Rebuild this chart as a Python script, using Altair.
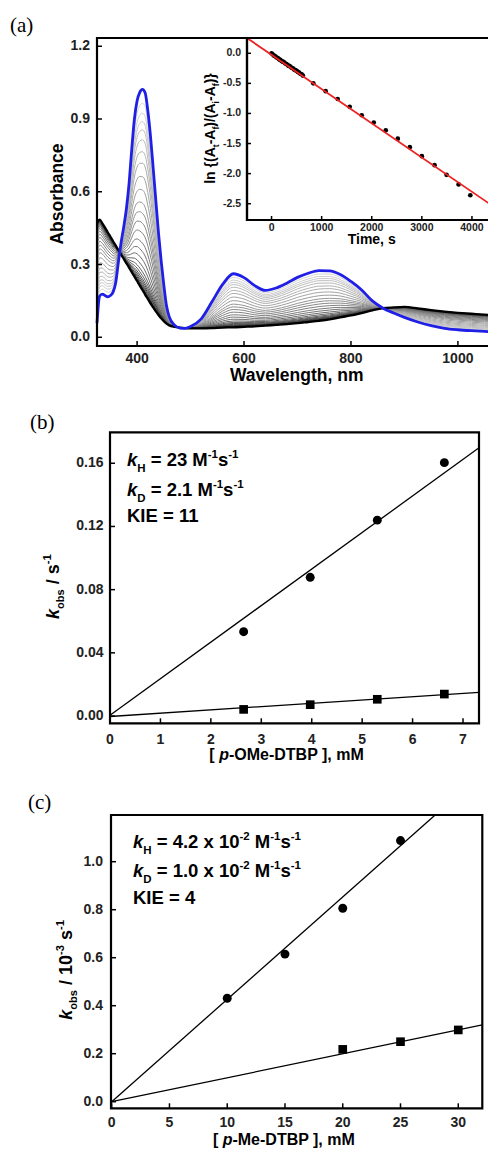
import altair as alt
import pandas as pd

# ---------------- data: panel (a) spectra ----------------
wavelength = [325, 330, 335, 340, 345, 350, 355, 360, 365, 370, 375, 380, 385, 390, 395, 400,
              405, 410, 415, 420, 425, 430, 435, 440, 445, 450, 455, 460, 470, 480, 490, 500,
              520, 540, 560, 580, 600, 620, 640, 660, 680, 700, 720, 740, 760, 780, 800, 820,
              840, 860, 880, 900, 925, 950, 975, 1000, 1025, 1050, 1075]
abs_initial = [0.058, 0.170, 0.178, 0.172, 0.167, 0.172, 0.186, 0.225, 0.310, 0.390, 0.455, 0.530,
               0.635, 0.775, 0.900, 0.975, 1.010, 1.022, 1.008, 0.935, 0.830, 0.700, 0.565, 0.430,
               0.315, 0.215, 0.130, 0.085, 0.050, 0.038, 0.037, 0.044, 0.076, 0.146, 0.218, 0.262,
               0.246, 0.213, 0.193, 0.203, 0.223, 0.247, 0.264, 0.275, 0.274, 0.259, 0.230, 0.195,
               0.150, 0.120, 0.100, 0.082, 0.063, 0.048, 0.037, 0.031, 0.027, 0.024, 0.022]
abs_final = [0.470, 0.485, 0.470, 0.452, 0.433, 0.415, 0.396, 0.378, 0.360, 0.341, 0.323, 0.305,
             0.287, 0.268, 0.250, 0.232, 0.213, 0.195, 0.176, 0.158, 0.140, 0.123, 0.107, 0.092,
             0.078, 0.066, 0.056, 0.049, 0.043, 0.040, 0.038, 0.037, 0.037, 0.038, 0.040, 0.041,
             0.043, 0.045, 0.048, 0.051, 0.054, 0.058, 0.063, 0.068, 0.074, 0.082, 0.090, 0.100,
             0.111, 0.120, 0.123, 0.125, 0.119, 0.112, 0.106, 0.101, 0.097, 0.093, 0.090]
# absorbance at 410 nm of the intermediate (grey) traces
peak410_intermediate = [0.965, 0.924, 0.889, 0.855, 0.814, 0.765, 0.718, 0.662, 0.607, 0.553,
                        0.511, 0.470, 0.429, 0.388, 0.353, 0.320, 0.292, 0.270, 0.254, 0.241,
                        0.231, 0.222, 0.214, 0.207, 0.202, 0.198]

# ---------------- data: inset ----------------
ins_t = [0, 25, 50, 75, 100, 125, 150, 175, 200, 225, 250, 275, 300, 325, 350, 375, 400, 425,
         450, 475, 500, 525, 550, 575, 600, 625,
         833, 1080, 1320, 1560, 1800, 2040, 2280, 2520, 2760, 3000, 3253, 3493, 3733, 3967]
ins_ln = [0.00, -0.02, -0.04, -0.05, -0.07, -0.08, -0.10, -0.11, -0.13, -0.14, -0.15, -0.17,
          -0.18, -0.20, -0.21, -0.22, -0.24, -0.25, -0.27, -0.28, -0.29, -0.31, -0.32, -0.34,
          -0.35, -0.37,
          -0.50, -0.63, -0.76, -0.89, -1.03, -1.15, -1.28, -1.42, -1.56, -1.71, -1.86, -2.02,
          -2.18, -2.36]
ins_fit_t = [-490, 4480]
ins_fit_ln = [0.254, -2.575]

# ---------------- data: panel (b) ----------------
b_conc = [2.65, 3.97, 5.30, 6.63]
b_kH = [0.0534, 0.0878, 0.1240, 0.1604]
b_kD = [0.0042, 0.0072, 0.0106, 0.0139]
b_fit_x = [0.0, 7.317]
b_fit_H = [0.0005, 0.1698]
b_fit_D = [-0.0003, 0.0150]

# ---------------- data: panel (c) ----------------
c_conc_H = [10, 15, 20, 25]
c_kH = [0.431, 0.615, 0.806, 1.088]
c_conc_D = [20, 25, 30]
c_kD = [0.218, 0.250, 0.299]
c_fit_H_x = [0.0, 28.0]
c_fit_H_y = [0.0, 1.1946]
c_fit_D_x = [0.0, 32.08]
c_fit_D_y = [0.0, 0.320]

# ---------------- tick labels ----------------
a_xticks = [400, 600, 800, 1000]
a_xlabels = ["400", "600", "800", "1000"]
a_yticks = [0.0, 0.3, 0.6, 0.9, 1.2]
a_ylabels = ["0.0", "0.3", "0.6", "0.9", "1.2"]
i_xticks = [0, 1000, 2000, 3000, 4000]
i_xlabels = ["0", "1000", "2000", "3000", "4000"]
i_yticks = [0.0, -0.5, -1.0, -1.5, -2.0, -2.5]
i_ylabels = ["0.0", "-0.5", "-1.0", "-1.5", "-2.0", "-2.5"]
b_xticks = [0, 1, 2, 3, 4, 5, 6, 7]
b_xlabels = ["0", "1", "2", "3", "4", "5", "6", "7"]
b_yticks = [0.0, 0.04, 0.08, 0.12, 0.16]
b_ylabels = ["0.00", "0.04", "0.08", "0.12", "0.16"]
c_xticks = [0, 5, 10, 15, 20, 25, 30]
c_xlabels = ["0", "5", "10", "15", "20", "25", "30"]
c_yticks = [0.0, 0.2, 0.4, 0.6, 0.8, 1.0]
c_ylabels = ["0.0", "0.2", "0.4", "0.6", "0.8", "1.0"]

# ---------------- styling / layout ----------------
SANS = "Liberation Sans"
SERIF = "Liberation Serif"
BLUE = "#1f1fe6"
RED = "#ee2222"

PANELS = {
    "a": dict(xd=[325, 1075], xr=[89, 490], yd=[-0.036, 1.234], yr=[338, 30]),
    "i": dict(xd=[-490, 4480], xr=[239, 488], yd=[-2.771, 0.254], yr=[212, 30]),
    "b": dict(xd=[0, 7.317], xr=[102, 471], yd=[-0.0046, 0.1796], yr=[715.3, 424.3]),
    "c": dict(xd=[-0.06, 32.08], xr=[103, 474.3], yd=[-0.0275, 1.1946], yr=[1100.3, 807]),
}


def sx(p):
    d = PANELS[p]
    return alt.Scale(domain=d["xd"], range=d["xr"], nice=False, zero=False)


def sy(p):
    d = PANELS[p]
    return alt.Scale(domain=d["yd"], range=d["yr"], nice=False, zero=False)


ONE = pd.DataFrame({"o": [0]})
layers = []


def frame(p, fill=None, sw=2):
    d = PANELS[p]
    kw = dict(stroke="black", strokeWidth=sw)
    if fill:
        kw["fill"] = fill
    else:
        kw["fillOpacity"] = 0
    return alt.Chart(ONE).mark_rect(**kw).encode(
        x=alt.X(datum=d["xd"][0], scale=sx(p), axis=None),
        x2=alt.X2(datum=d["xd"][1]),
        y=alt.Y(datum=d["yd"][0], scale=sy(p), axis=None),
        y2=alt.Y2(datum=d["yd"][1]),
    )


def axis_marks(p, xt, xl, yt, yl, size, xdy, ydx, tl=5):
    d = PANELS[p]
    out = []
    dfx = pd.DataFrame({"v": xt, "lab": xl})
    dfy = pd.DataFrame({"v": yt, "lab": yl})
    out.append(alt.Chart(dfx).mark_rule(color="black", strokeWidth=1.5, y2Offset=-tl).encode(
        x=alt.X("v:Q", scale=sx(p), axis=None),
        y=alt.Y(datum=d["yd"][0], scale=sy(p), axis=None),
        y2=alt.Y2(datum=d["yd"][0])))
    out.append(alt.Chart(dfx).mark_text(dy=xdy, align="center", baseline="alphabetic",
                                        fontSize=size, fontWeight="bold", font=SANS,
                                        color="#222222").encode(
        x=alt.X("v:Q", scale=sx(p), axis=None),
        y=alt.Y(datum=d["yd"][0], scale=sy(p), axis=None),
        text="lab:N"))
    out.append(alt.Chart(dfy).mark_rule(color="black", strokeWidth=1.5, x2Offset=tl).encode(
        y=alt.Y("v:Q", scale=sy(p), axis=None),
        x=alt.X(datum=d["xd"][0], scale=sx(p), axis=None),
        x2=alt.X2(datum=d["xd"][0])))
    out.append(alt.Chart(dfy).mark_text(dx=ydx, align="right", baseline="middle",
                                        fontSize=size, fontWeight="bold", font=SANS,
                                        color="#222222").encode(
        y=alt.Y("v:Q", scale=sy(p), axis=None),
        x=alt.X(datum=d["xd"][0], scale=sx(p), axis=None),
        text="lab:N"))
    return out


AW = {' ': 278, '(': 333, ')': 333, ',': 278, '-': 333, '.': 278, '/': 278, '=': 584,
      '[': 333, ']': 333, '{': 389, '}': 389, 'x': 556,
      'A': 722, 'B': 722, 'D': 722, 'E': 667, 'H': 722, 'I': 278, 'K': 722, 'M': 833,
      'O': 778, 'P': 667, 'T': 611, 'W': 944,
      'a': 556, 'b': 611, 'c': 556, 'e': 556, 'f': 333, 'g': 611, 'h': 611, 'i': 278,
      'k': 556, 'l': 278, 'm': 889, 'n': 611, 'o': 611, 'p': 611, 'r': 389, 's': 556,
      't': 333, 'v': 556}


def tw(s, size):
    return sum(AW.get(ch, 556) for ch in s) * size / 1000.0


def rich(segs, x, y, size, angle=0, anchor="start", color="black"):
    """segs: list of (text, kind, italic); kind in n/sub/sup"""
    sizes = [size * 0.62 if k != "n" else size for _, k, _ in segs]
    widths = [tw(t, s) for (t, _, _), s in zip(segs, sizes)]
    off = -sum(widths) / 2 if anchor == "middle" else 0.0
    out = []
    for (t, k, it), s, w in zip(segs, sizes, widths):
        lead = len(t) - len(t.lstrip(" "))
        dy = 0.30 * size if k == "sub" else (-0.42 * size if k == "sup" else 0)
        out.append(alt.Chart(ONE).mark_text(
            text=t.strip(" "), align="left", baseline="alphabetic",
            dx=off + tw(" " * lead, s), dy=dy, fontSize=s, fontWeight="bold",
            fontStyle="italic" if it else "normal", font=SANS, angle=angle,
            color=color).encode(x=alt.value(x), y=alt.value(y)))
        off += w
    return out


def plain(t, x, y, size, font=SANS, weight="bold", angle=0, align="center"):
    return alt.Chart(ONE).mark_text(text=t, align=align, baseline="alphabetic", fontSize=size,
                                    fontWeight=weight, font=font, angle=angle,
                                    color="black").encode(x=alt.value(x), y=alt.value(y))


# ---------------- panel (a): spectra ----------------
i410 = wavelength.index(410)
rows = []
n = len(peak410_intermediate)
for j, pk in enumerate(peak410_intermediate):
    f = (pk - abs_final[i410]) / (abs_initial[i410] - abs_final[i410])
    for w, a0, a1 in zip(wavelength, abs_initial, abs_final):
        rows.append({"wl": w, "A": a1 + f * (a0 - a1), "idx": j})
grey_df = pd.DataFrame(rows)
greys = []
for j in range(n):
    g = int(round(212 - (212 - 40) * j / (n - 1)))
    greys.append("#%02x%02x%02x" % (g, g, g))

spec_init = pd.DataFrame({"wl": wavelength, "A": abs_initial})
spec_final = pd.DataFrame({"wl": wavelength, "A": abs_final})

layers.append(alt.Chart(grey_df).mark_line(strokeWidth=1, interpolate="monotone").encode(
    x=alt.X("wl:Q", scale=sx("a"), axis=None),
    y=alt.Y("A:Q", scale=sy("a"), axis=None),
    color=alt.Color("idx:O", scale=alt.Scale(domain=list(range(n)), range=greys), legend=None)))
layers.append(alt.Chart(spec_final).mark_line(color="black", strokeWidth=2.3,
                                              interpolate="monotone").encode(
    x=alt.X("wl:Q", scale=sx("a"), axis=None), y=alt.Y("A:Q", scale=sy("a"), axis=None)))
layers.append(alt.Chart(spec_init).mark_line(color=BLUE, strokeWidth=2.8,
                                             interpolate="monotone").encode(
    x=alt.X("wl:Q", scale=sx("a"), axis=None), y=alt.Y("A:Q", scale=sy("a"), axis=None)))
layers.append(frame("a", sw=2.2))
layers += axis_marks("a", a_xticks, a_xlabels, a_yticks, a_ylabels, 14, 17, -7)
layers.append(plain("Wavelength, nm", 288.7, 372.5, 17.5))
layers.append(plain("Absorbance", 55, 186, 17.5, angle=270))
layers.append(plain("(a)", 2, 24.3, 21, font=SERIF, weight="normal", align="left"))

# ---------------- inset ----------------
layers.append(frame("i", fill="white", sw=2.2))
ins_df = pd.DataFrame({"t": ins_t, "y": ins_ln})
fit_df = pd.DataFrame({"t": ins_fit_t, "y": ins_fit_ln})
layers.append(alt.Chart(ins_df).mark_circle(size=22, color="black", opacity=1).encode(
    x=alt.X("t:Q", scale=sx("i"), axis=None), y=alt.Y("y:Q", scale=sy("i"), axis=None)))
layers.append(alt.Chart(fit_df).mark_line(color=RED, strokeWidth=1.8).encode(
    x=alt.X("t:Q", scale=sx("i"), axis=None), y=alt.Y("y:Q", scale=sy("i"), axis=None)))
layers.append(frame("i", sw=2.2))
layers += axis_marks("i", i_xticks, i_xlabels, i_yticks, i_ylabels, 10.5, 11, -6, tl=4)
layers.append(plain("Time, s", 363.7, 236, 14))
layers += rich([("ln {(A", "n", False), ("t", "sub", False), ("-A", "n", False),
                ("f", "sub", False), (")/(A", "n", False), ("i", "sub", False),
                ("-A", "n", False), ("f", "sub", False), (")}", "n", False)],
               207, 120.5, 14, angle=270, anchor="middle")

# ---------------- panel (b) ----------------
bH = pd.DataFrame({"x": b_conc, "y": b_kH})
bD = pd.DataFrame({"x": b_conc, "y": b_kD})
bfH = pd.DataFrame({"x": b_fit_x, "y": b_fit_H})
bfD = pd.DataFrame({"x": b_fit_x, "y": b_fit_D})
for df in (bfH, bfD):
    layers.append(alt.Chart(df).mark_line(color="black", strokeWidth=1.3).encode(
        x=alt.X("x:Q", scale=sx("b"), axis=None), y=alt.Y("y:Q", scale=sy("b"), axis=None)))
layers.append(alt.Chart(bH).mark_circle(size=80, color="black", opacity=1).encode(
    x=alt.X("x:Q", scale=sx("b"), axis=None), y=alt.Y("y:Q", scale=sy("b"), axis=None)))
layers.append(alt.Chart(bD).mark_square(size=75, color="black", opacity=1).encode(
    x=alt.X("x:Q", scale=sx("b"), axis=None), y=alt.Y("y:Q", scale=sy("b"), axis=None)))
layers.append(frame("b", sw=2.2))
layers += axis_marks("b", b_xticks, b_xlabels, b_yticks, b_ylabels, 14, 21, -6.5)
layers += rich([("[ ", "n", False), ("p", "n", True), ("-OMe-DTBP ], mM", "n", False)],
               278.7, 752, 16, anchor="middle")
layers += rich([("k", "n", True), ("obs", "sub", False), (" / s", "n", False), ("-1", "sup", False)],
               51, 578.7, 18, angle=270, anchor="middle")
layers.append(plain("(b)", 22, 421, 21, font=SERIF, weight="normal", align="left"))
layers += rich([("k", "n", True), ("H", "sub", False), (" = 23 M", "n", False), ("-1", "sup", False),
                ("s", "n", False), ("-1", "sup", False)], 119, 458, 18.5)
layers += rich([("k", "n", True), ("D", "sub", False), (" = 2.1 M", "n", False), ("-1", "sup", False),
                ("s", "n", False), ("-1", "sup", False)], 119, 488, 18.5)
layers += rich([("KIE = 11", "n", False)], 119, 514, 18.5)

# ---------------- panel (c) ----------------
cH = pd.DataFrame({"x": c_conc_H, "y": c_kH})
cD = pd.DataFrame({"x": c_conc_D, "y": c_kD})
cfH = pd.DataFrame({"x": c_fit_H_x, "y": c_fit_H_y})
cfD = pd.DataFrame({"x": c_fit_D_x, "y": c_fit_D_y})
for df in (cfH, cfD):
    layers.append(alt.Chart(df).mark_line(color="black", strokeWidth=1.3).encode(
        x=alt.X("x:Q", scale=sx("c"), axis=None), y=alt.Y("y:Q", scale=sy("c"), axis=None)))
layers.append(alt.Chart(cH).mark_circle(size=80, color="black", opacity=1).encode(
    x=alt.X("x:Q", scale=sx("c"), axis=None), y=alt.Y("y:Q", scale=sy("c"), axis=None)))
layers.append(alt.Chart(cD).mark_square(size=75, color="black", opacity=1).encode(
    x=alt.X("x:Q", scale=sx("c"), axis=None), y=alt.Y("y:Q", scale=sy("c"), axis=None)))
layers.append(frame("c", sw=2.2))
layers += axis_marks("c", c_xticks, c_xlabels, c_yticks, c_ylabels, 14, 18.5, -8)
layers += rich([("[ ", "n", False), ("p", "n", True), ("-Me-DTBP ], mM", "n", False)],
               276, 1137, 16, anchor="middle")
layers += rich([("k", "n", True), ("obs", "sub", False), (" / 10", "n", False), ("-3", "sup", False),
                (" s", "n", False), ("-1", "sup", False)],
               64, 962, 18, angle=270, anchor="middle")
layers.append(plain("(c)", 20, 801, 21, font=SERIF, weight="normal", align="left"))
layers += rich([("k", "n", True), ("H", "sub", False), (" = 4.2 x 10", "n", False), ("-2", "sup", False),
                (" M", "n", False), ("-1", "sup", False), ("s", "n", False), ("-1", "sup", False)],
               125, 840, 18.5)
layers += rich([("k", "n", True), ("D", "sub", False), (" = 1.0 x 10", "n", False), ("-2", "sup", False),
                (" M", "n", False), ("-1", "sup", False), ("s", "n", False), ("-1", "sup", False)],
               125, 869, 18.5)
layers += rich([("KIE = 4", "n", False)], 125, 896, 18.5)

chart = alt.layer(*layers).resolve_scale(
    x="independent", y="independent", color="independent"
).properties(
    width=480, height=1142, padding=0, autosize=alt.AutoSizeParams(type="none")
).configure_view(stroke=None)

chart.save("out.html", embed_options={"renderer": "svg", "actions": False})
